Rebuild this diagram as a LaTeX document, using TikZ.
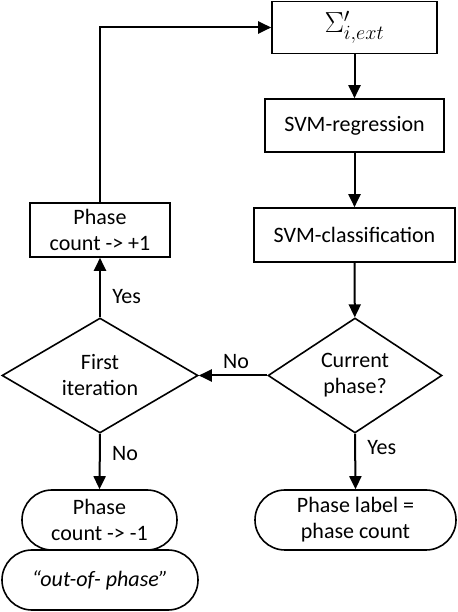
\documentclass[tikz,border=0pt]{standalone}
\usepackage{fontspec}
\setmainfont{Carlito}
\usetikzlibrary{shapes.geometric,shapes.misc,arrows.meta}

\begin{document}
\begin{tikzpicture}[x=1pt,y=1pt,
  txt/.style={font=\fontsize{22}{26}\selectfont},
  box/.style={txt,draw,line width=1.6pt,inner sep=0pt,align=center},
  proc/.style={box,rectangle},
  term/.style={box,rounded rectangle},
  dec/.style={box,diamond,shape aspect=1.7},
  arr/.style={line width=2pt,-{Triangle[length=13pt,width=12pt]}}]
  \useasboundingbox (0,0) rectangle (457,612);
  \node[proc,minimum width=165pt,minimum height=52pt] (sig) at (354.5,584.5) {\scalebox{1.4}{$\Sigma'_{i,ext}$}};
  \node[proc,minimum width=179pt,minimum height=53pt] (reg) at (354.5,486.5) {SVM-regression};
  \node[proc,minimum width=201pt,minimum height=54pt] (cls) at (354.5,377) {SVM-classification};
  \node[dec,minimum width=174pt,minimum height=115pt] (cur) at (355,236.5) {Current\\phase?};
  \node[dec,minimum width=196pt,minimum height=115pt] (fst) at (100,236.5) {First\\iteration};
  \node[proc,minimum width=140pt,minimum height=54pt] (inc) at (100,382) {Phase\\count -> +1};
  \node[term,minimum width=155pt,minimum height=60pt] (dec) at (99.5,92) {Phase\\count -> -1};
  \node[term,minimum width=196pt,minimum height=60pt] (oop) at (100,32) {\itshape “out-of- phase”};
  \node[term,minimum width=201pt,minimum height=60pt] (lbl) at (355.5,92) {Phase label =\\phase count};
  \draw[arr] (sig) -- (reg);
  \draw[arr] (reg) -- (cls);
  \draw[arr] (cls) -- (cur);
  \draw[arr] (cur.west) -- node[txt,above=3pt,xshift=3pt] {No} (fst.east);
  \draw[arr] (cur.south) -- node[txt,right=8pt,pos=0.25] {Yes} (lbl.north);
  \draw[arr] (fst.south) -- node[txt,right=8pt,pos=0.35] {No} (dec.north);
  \draw[arr] (fst.north) -- node[txt,right=8pt,pos=0.35] {Yes} (inc.south);
  \draw[arr] (inc.north) |- (sig.west);
\end{tikzpicture}
\end{document}
